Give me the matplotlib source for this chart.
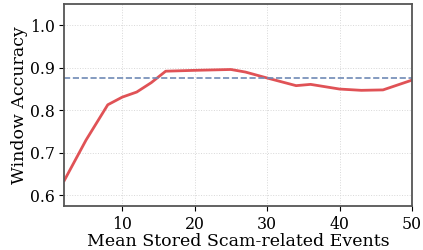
import matplotlib.pyplot as plt

# Datos
eventos = [2, 5, 8, 10, 12, 14, 16, 20, 25, 27, 30, 34, 36, 40, 43, 46, 50]
precision = [0.635, 0.730, 0.813, 0.831, 0.843, 0.865, 0.892, 0.894, 0.896, 0.890,
             0.876, 0.858, 0.861, 0.850, 0.847, 0.848, 0.871]
referencia = 0.877

plt.rcParams['font.family'] = 'DejaVu Serif'

fig, ax = plt.subplots(figsize=(4.23, 2.5), dpi=100)

ax.plot(eventos, precision, color='#e05256', linewidth=2)
ax.axhline(referencia, color='#6f8ab5', linestyle='--', linewidth=1.2)

ax.set_xlim(2, 50)
ax.set_ylim(0.575, 1.05)
ax.set_xticks([10, 20, 30, 40, 50])
ax.set_yticks([0.6, 0.7, 0.8, 0.9, 1.0])
ax.tick_params(labelsize=11.3, pad=3.5)

ax.set_xlabel('Mean Stored Scam-related Events', fontsize=12.5, labelpad=0)
ax.set_ylabel('Window Accuracy', fontsize=12.5, labelpad=1)

ax.grid(True, linestyle=':', linewidth=0.7, color='#d8d8d8')
for s in ax.spines.values():
    s.set_color('#555555')
    s.set_linewidth(1.3)

plt.subplots_adjust(left=0.152, right=0.974, top=0.984, bottom=0.176)
plt.savefig('out.png', dpi=100)
